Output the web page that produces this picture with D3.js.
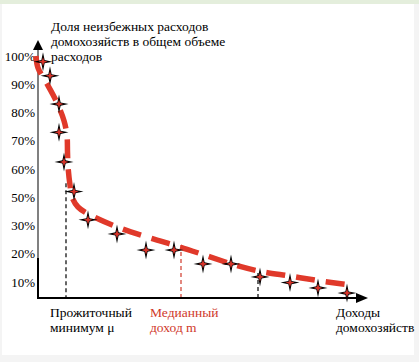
<!DOCTYPE html>
<html>
<head>
<meta charset="utf-8">
<script src="https://cdn.jsdelivr.net/npm/d3@7"></script>
<style>
    body { margin: 0; background: #fff; }
</style>
</head>
<body>
<div id="chart"></div>
<script>
// Шкала долей (40% на рисунке пропущено)
const yTicks = [10, 20, 30, 50, 60, 70, 80, 90, 100];

// Точки домохозяйств: доход (усл. ед.) и доля неизбежных расходов, %
const income = [5, 12, 21, 21, 26, 36, 50, 79, 108, 136, 165, 193, 222, 252, 280, 309];
const share = [98, 93, 83, 73, 62.5, 52, 34, 27, 21.3, 21.3, 16.4, 16.4, 11.8, 9.8, 7.9, 6.1];

// Линия тренда (красный пунктир)
const trendIncome = [-2, 0, 8, 18, 26, 29, 29.5, 30, 32, 34, 40, 52, 82, 112, 142, 172, 197, 222, 252, 282, 314];
const trendShare = [100, 95.8, 90.8, 84.2, 77.1, 71.8, 66, 61, 54.3, 50.1, 43.1, 37.5, 29.1, 25.6, 22.4, 18.9, 16, 13.8, 12.1, 10.4, 8.9];

// Вертикальные отметки: прожиточный минимум, медианный доход, ещё одна
const markIncome = [28, 143, 220];
const markTop = [55, 23.1, 13.2];
const markColor = ["#000", "#d0392b", "#000"];

const width = 419, height = 362;
const serif = "'Liberation Serif', 'DejaVu Serif', serif";
const svg = d3.select("#chart").append("svg")
    .attr("width", width)
    .attr("height", height);

// рамка карточки
svg.append("rect").attr("x", 0).attr("y", 0).attr("width", width).attr("height", height).attr("fill", "#f4f4f4");
svg.append("rect").attr("x", 0).attr("y", 0).attr("width", width).attr("height", 4).attr("fill", "#e4eedc");
svg.append("rect").attr("x", 2).attr("y", 4).attr("width", 412).attr("height", 351).attr("fill", "#fff");

const x = d3.scaleLinear().domain([0, 330]).range([38, 368]);

const yTop = 56, yStep = 28.25;
const y = d3.scaleLinear()
    .domain(yTicks)
    .range(yTicks.map((d, i) => yTop + (yTicks.length - 1 - i) * yStep));

// ось Y
svg.append("line")
    .attr("x1", x(0)).attr("x2", x(0))
    .attr("y1", 48).attr("y2", 258)
    .attr("stroke", "#808080").attr("stroke-width", 2);
svg.append("line")
    .attr("x1", x(0)).attr("x2", x(0))
    .attr("y1", 258).attr("y2", 299)
    .attr("stroke", "#000").attr("stroke-width", 2);
svg.append("path")
    .attr("d", `M${x(0)},40 L${x(0) - 5},50 L${x(0) + 5},50 Z`)
    .attr("fill", "#000");

svg.append("g")
    .attr("transform", `translate(${x(0)},0)`)
    .call(d3.axisLeft(y).tickValues(yTicks).tickFormat(d => d + "%").tickSize(0).tickPadding(3))
    .attr("font-family", serif)
    .call(g => g.select(".domain").remove())
    .selectAll("text")
    .attr("font-size", 13)
    .attr("fill", "#000");

// ось X
svg.append("g")
    .attr("transform", "translate(0,298)")
    .call(d3.axisBottom(x).tickValues([]).tickSizeOuter(0))
    .call(g => g.select(".domain").attr("stroke", "#000").attr("stroke-width", 2.2).attr("d", `M${x(0) - 1},0H${x(320)}`));
svg.append("path")
    .attr("d", `M${x(330)},298 L${x(318)},293 L${x(318)},303 Z`)
    .attr("fill", "#000");

// вертикальные пунктиры
markIncome.forEach((m, i) => {
    svg.append("line")
        .attr("x1", x(m)).attr("x2", x(m))
        .attr("y1", y(markTop[i])).attr("y2", 297)
        .attr("stroke", markColor[i])
        .attr("stroke-width", 1.2)
        .attr("stroke-dasharray", "4,3");
});

// линия тренда
const trend = trendIncome.map((d, i) => [d, trendShare[i]]);
svg.append("path")
    .datum(trend)
    .attr("d", d3.line().x(d => x(d[0])).y(d => y(d[1])).curve(d3.curveCatmullRom.alpha(0.5)))
    .attr("fill", "none")
    .attr("stroke", "#e0392a")
    .attr("stroke-width", 5.5)
    .attr("stroke-dasharray", "19,11");

// звёздочки
function star(r, r0) {
    const p = d3.path();
    for (let k = 0; k < 8; k++) {
        const a = k * Math.PI / 4 - Math.PI / 2;
        const rr = k % 2 === 0 ? r : r0;
        if (k === 0) p.moveTo(rr * Math.cos(a), rr * Math.sin(a));
        else p.lineTo(rr * Math.cos(a), rr * Math.sin(a));
    }
    p.closePath();
    return p.toString();
}

const pts = svg.append("g").selectAll("g")
    .data(income.map((d, i) => [d, share[i]]))
    .join("g")
    .attr("transform", d => `translate(${x(d[0])},${y(d[1])})`);
pts.append("path").attr("d", star(9.5, 2.3)).attr("fill", "#000");
pts.append("path").attr("d", star(4.5, 1.5)).attr("fill", "#d8342a");

// подписи
const title = ["Доля неизбежных расходов", "домохозяйств в общем объеме", "расходов"];
svg.append("text")
    .attr("x", 51).attr("y", 31)
    .attr("font-family", serif)
    .attr("font-size", 13.5)
    .selectAll("tspan")
    .data(title)
    .join("tspan")
    .attr("x", 51)
    .attr("dy", (d, i) => i === 0 ? 0 : 15)
    .text(d => d);

function label(tx, ty, lines, color) {
    svg.append("text")
        .attr("x", tx).attr("y", ty)
        .attr("font-family", serif)
        .attr("font-size", 13.5)
        .attr("fill", color)
        .selectAll("tspan")
        .data(lines)
        .join("tspan")
        .attr("x", tx)
        .attr("dy", (d, i) => i === 0 ? 0 : 15)
        .text(d => d);
}
label(50, 317, ["Прожиточный", "минимум μ"], "#000");
label(150, 317, ["Медианный", "доход m"], "#d0392b");
label(336, 317, ["Доходы", "домохозяйств"], "#000");
</script>
</body>
</html>
